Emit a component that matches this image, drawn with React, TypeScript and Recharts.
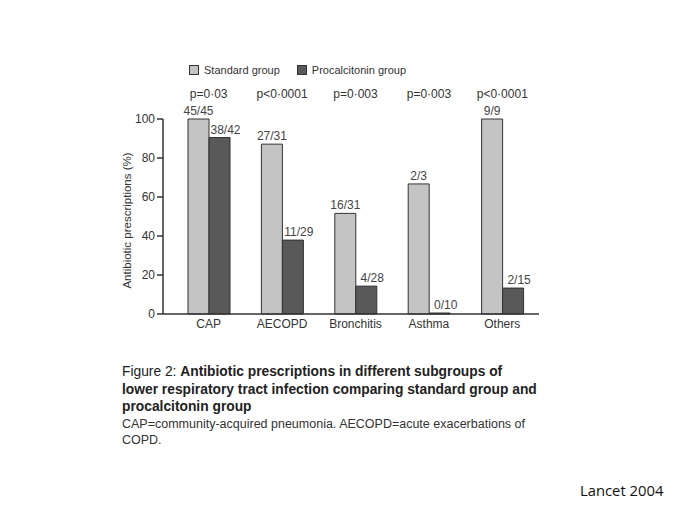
import { BarChart, Bar, XAxis, YAxis, Legend, LabelList } from 'recharts'

// Antibiotic prescriptions by LRTI subgroup (Lancet 2004, figure 2)
const categories = ['CAP', 'AECOPD', 'Bronchitis', 'Asthma', 'Others']
const standardPct = [100, 87.1, 51.6, 66.7, 100]
const procalcitoninPct = [90.5, 37.9, 14.3, 0, 13.3]
const standardLabels = ['45/45', '27/31', '16/31', '2/3', '9/9']
const procalcitoninLabels = ['38/42', '11/29', '4/28', '0/10', '2/15']
const pValues = ['p=0·03', 'p<0·0001', 'p=0·003', 'p=0·003', 'p<0·0001']
const yTicks = [0, 20, 40, 60, 80, 100]
const seriesNames = ['Standard group', 'Procalcitonin group']

const FONT = '"Liberation Sans", Arial, sans-serif'
const INK = '#333'
const COLORS: Record<string, string> = {
  'Standard group': '#c4c4c4',
  'Procalcitonin group': '#595959',
}

const rows = categories.map((name, i) => ({
  name,
  standard: standardPct[i],
  procalcitonin: procalcitoninPct[i],
  standardLabel: standardLabels[i],
  procalcitoninLabel: procalcitoninLabels[i],
}))

function LegendBox() {
  // fixed order, recharts sorts legend items by name otherwise
  return (
    <div style={{ display: 'flex', gap: 17, height: 16, alignItems: 'center', fontSize: 11, color: INK, fontFamily: FONT }}>
      {seriesNames.map((n) => (
        <span key={n} style={{ display: 'flex', alignItems: 'center', gap: 5 }}>
          <span style={{ width: 8, height: 8, display: 'inline-block', background: COLORS[n], border: `1px solid ${INK}` }} />
          {n}
        </span>
      ))}
    </div>
  )
}

// label above a bar
function TopLabel(props: any) {
  const { x, y, width, height, value, dx = 0 } = props
  if (value == null) return null
  // zero bars get a 1px min height, keep their label on the baseline
  const top = Number(height) < 0 ? Number(y) + Number(height) : Number(y)
  return (
    <text x={Number(x) + Number(width) / 2 + dx} y={top - 4} textAnchor="middle" fontSize={12} fill="#444" fontFamily={FONT}>
      {value}
    </text>
  )
}

export default function App() {
  const tick = { fontSize: 12, fill: INK, fontFamily: FONT }
  return (
    <div style={{ position: 'absolute', left: 0, top: 0, width: 689, height: 517, background: '#fff', fontFamily: FONT }}>
      <BarChart
        width={689}
        height={360}
        data={rows}
        margin={{ top: 62, right: 150, left: 113, bottom: 16 }}
        barGap={0}
        barSize={21}
      >
        <Legend
          verticalAlign="top"
          align="left"
          content={<LegendBox />}
          wrapperStyle={{ left: 189, top: 62, width: 'auto' }}
        />
        <XAxis
          xAxisId="top"
          orientation="top"
          dataKey="name"
          height={41}
          axisLine={false}
          tickLine={false}
          tickSize={0}
          tickMargin={21}
          padding={{ left: 9, right: 0 }}
          interval={0}
          tickFormatter={(_v: any, i: number) => pValues[i]}
          tick={tick}
        />
        <XAxis
          dataKey="name"
          height={30}
          axisLine={{ stroke: INK, strokeWidth: 1.5 }}
          tickLine={false}
          tickSize={0}
          tickMargin={5}
          padding={{ left: 9, right: 0 }}
          interval={0}
          tick={tick}
        />
        <YAxis
          width={50}
          domain={[0, 100]}
          ticks={yTicks}
          interval={0}
          axisLine={{ stroke: INK, strokeWidth: 1.5 }}
          tickLine={{ stroke: INK, strokeWidth: 1.5 }}
          tick={tick}
          label={{
            value: 'Antibiotic prescriptions (%)',
            angle: -90,
            position: 'insideLeft',
            offset: 14,
            dy: 4,
            style: { textAnchor: 'middle', fontSize: 11.5, fill: INK, fontFamily: FONT },
          }}
        />
        <Bar dataKey="standard" name={seriesNames[0]} fill={COLORS[seriesNames[0]]} stroke={INK} strokeWidth={1} isAnimationActive={false}>
          <LabelList dataKey="standardLabel" content={(p: any) => <TopLabel {...p} />} />
        </Bar>
        <Bar
          dataKey="procalcitonin"
          name={seriesNames[1]}
          fill={COLORS[seriesNames[1]]}
          stroke={INK}
          strokeWidth={1}
          minPointSize={1}
          isAnimationActive={false}
        >
          <LabelList dataKey="procalcitoninLabel" content={(p: any) => <TopLabel {...p} dx={6} />} />
        </Bar>
      </BarChart>

      <div style={{ position: 'absolute', left: 122, top: 363, color: '#222', whiteSpace: 'nowrap' }}>
        <div style={{ fontSize: 13.8, lineHeight: '17.5px' }}>
          <div>
            <span style={{ fontWeight: 'normal' }}>Figure 2: </span>
            <b>Antibiotic prescriptions in different subgroups of</b>
          </div>
          <div><b>lower respiratory tract infection comparing standard group and</b></div>
          <div><b>procalcitonin group</b></div>
        </div>
        <div style={{ fontSize: 12.5, lineHeight: '16px', color: '#333' }}>
          <div>CAP=community-acquired pneumonia. AECOPD=acute exacerbations of</div>
          <div>COPD.</div>
        </div>
      </div>

      <div style={{ position: 'absolute', left: 580, top: 480, fontSize: 14.8, fontFamily: '"Open Sans", sans-serif', color: '#111' }}>
        Lancet 2004
      </div>
    </div>
  )
}
